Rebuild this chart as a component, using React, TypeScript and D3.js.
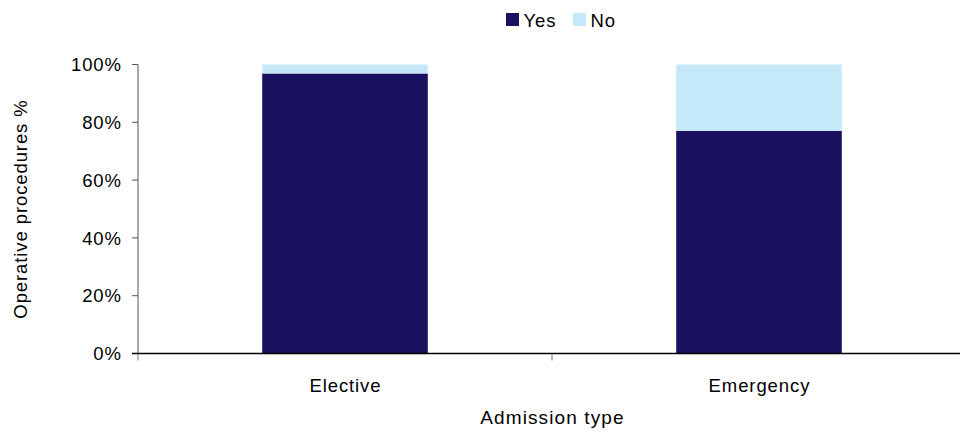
import React from "react";
import * as d3 from "d3";

const categories = ["Elective", "Emergency"];
const yesValues = [96.9, 77.0];
const noValues = [3.1, 23.0];
const seriesNames = ["Yes", "No"];
const seriesColors = ["#1a1060", "#c6e9f9"];
const yTicks = [0, 20, 40, 60, 80, 100];

export default function App() {
  const W = 960, H = 433;
  const left = 138, right = 966, top = 64.5, bottom = 353.5;
  const x = d3.scaleBand().domain(categories).range([left, right]).paddingInner(0).paddingOuter(0);
  const y = d3.scaleLinear().domain([0, 100]).range([bottom, top]);
  const bw = x.bandwidth() * 0.4;
  const stacked = categories.map((c, i) => ({ c, yes: yesValues[i], no: noValues[i] }));
  const font = "'Liberation Sans', Arial, sans-serif";
  const fs = 18.5;
  const ls = 0.9;
  return (
    <svg width={W} height={H} style={{ position: "absolute", left: 0, top: 0, fontFamily: font }}>
      {stacked.map((d) => {
        const cx = (x(d.c) as number) + x.bandwidth() / 2;
        return (
          <g key={d.c}>
            <rect x={cx - bw / 2} y={y(d.yes)} width={bw} height={y(0) - y(d.yes)} fill={seriesColors[0]} />
            <rect x={cx - bw / 2} y={y(d.yes + d.no)} width={bw} height={y(d.yes) - y(d.yes + d.no)} fill={seriesColors[1]} />
            <text x={cx + ls / 2} y={392} textAnchor="middle" fontSize={fs} letterSpacing={ls} fill="#000">{d.c}</text>
          </g>
        );
      })}
      {/* y axis */}
      <line x1={left} x2={left} y1={top} y2={bottom} stroke="#555" strokeWidth={1} />
      {yTicks.map((t) => (
        <g key={t}>
          <line x1={left - 6} x2={left} y1={y(t)} y2={y(t)} stroke="#555" />
          <text x={left - 17 + ls} y={y(t) + 6.6} textAnchor="end" fontSize={fs} letterSpacing={ls} fill="#000">{t}%</text>
        </g>
      ))}
      {/* x axis */}
      <line x1={left - 6} x2={right} y1={bottom} y2={bottom} stroke="#000" strokeWidth={1.5} />
      {[left, left + x.bandwidth(), right].map((v, i) => (
        <line key={i} x1={v} x2={v} y1={bottom} y2={bottom + 7} stroke="#777" />
      ))}
      <text x={(left + right) / 2 + ls / 2} y={424} textAnchor="middle" fontSize={19} letterSpacing={1.1}>Admission type</text>
      <text transform={`translate(27,209) rotate(-90)`} textAnchor="middle" fontSize={fs} letterSpacing={ls}>Operative procedures %</text>
      {/* legend */}
      {seriesNames.map((s, i) => {
        const lx = [506, 573][i];
        return (
          <g key={s}>
            <rect x={lx} y={13} width={13} height={13} fill={seriesColors[i]} />
            <text x={lx + 17.5} y={26.5} fontSize={fs} letterSpacing={ls}>{s}</text>
          </g>
        );
      })}
    </svg>
  );
}
